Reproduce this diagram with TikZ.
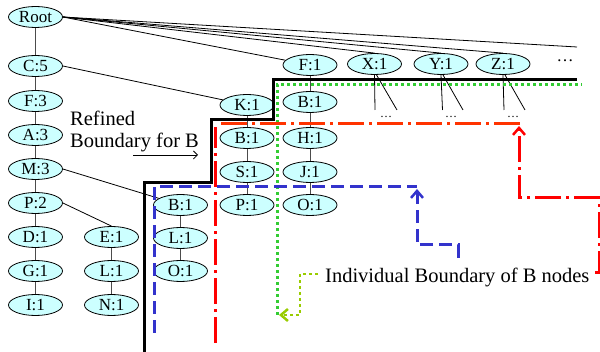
\documentclass[tikz,border=0pt]{standalone}
\usepackage{fontspec}
\setmainfont{Liberation Serif}
\usetikzlibrary{arrows.meta,shapes.geometric}
\definecolor{nodefill}{HTML}{CCFFFF}
\definecolor{bgreen}{HTML}{33CC33}
\definecolor{olive}{HTML}{99CC00}
\definecolor{bblue}{HTML}{3333CC}
\definecolor{bred}{HTML}{FF0000}
\definecolor{ored}{HTML}{FF3300}
\begin{document}
\begin{tikzpicture}[x=1pt,y=-1pt,
  tn/.style={ellipse,draw=black,line width=0.8pt,fill=nodefill,minimum width=54pt,minimum height=21pt,inner sep=0pt,font=\fontsize{17}{17}\selectfont},
  edge/.style={draw=black!70,line width=0.9pt},
  redge/.style={draw=black,line width=0.8pt},
  lbl/.style={inner sep=0pt,font=\fontsize{20.5}{20.5}\selectfont},
  sdots/.style={inner sep=0pt,font=\fontsize{12}{12}\selectfont},
  blackb/.style={draw=black,line width=3pt},
  greenb/.style={draw=bgreen,line width=3pt,dash pattern=on 3pt off 3pt},
  oliveb/.style={draw=olive,line width=2.5pt,dash pattern=on 3pt off 3pt},
  blueb/.style={draw=bblue,line width=3pt,dash pattern=on 13pt off 6pt},
  redb/.style={draw=bred,line width=3pt,dash pattern=on 26pt off 5pt on 3pt off 5pt},
  oredb/.style={draw=ored,line width=3pt,dash pattern=on 26pt off 5pt on 3pt off 5pt},
  barb/.style={-{Straight Barb[length=7pt,width=12pt,line width=2.5pt]}}
]
\useasboundingbox (0,0) rectangle (600,352);

% nodes
\node[tn] (root) at (35.5,17) {Root};
\node[tn] (c5) at (35.5,66) {C:5};
\node[tn] (f3) at (35.5,101) {F:3};
\node[tn] (a3) at (35.5,135) {A:3};
\node[tn] (m3) at (35.5,169) {M:3};
\node[tn] (p2) at (35.5,203) {P:2};
\node[tn] (d1) at (35.5,237) {D:1};
\node[tn] (g1) at (35.5,271) {G:1};
\node[tn] (i1) at (35.5,305) {I:1};
\node[tn] (e1) at (111.5,237) {E:1};
\node[tn] (l1a) at (111.5,271) {L:1};
\node[tn] (n1) at (111.5,305) {N:1};
\node[tn] (b1a) at (180.5,205) {B:1};
\node[tn] (l1b) at (180.5,238) {L:1};
\node[tn] (o1a) at (180.5,271) {O:1};
\node[tn] (k1) at (247,105) {K:1};
\node[tn] (b1b) at (247,138) {B:1};
\node[tn] (s1) at (247,172) {S:1};
\node[tn] (p1) at (247,205) {P:1};
\node[tn] (f1) at (310,65) {F:1};
\node[tn] (b1c) at (310,102) {B:1};
\node[tn] (h1) at (310,138) {H:1};
\node[tn] (j1) at (310,172) {J:1};
\node[tn] (o1b) at (310,205) {O:1};
\node[tn] (x1) at (374.5,64) {X:1};
\node[tn] (y1) at (441,64) {Y:1};
\node[tn] (z1) at (503,64) {Z:1};
\node[inner sep=0pt,font=\fontsize{17}{17}\selectfont] (dotsr) at (565,61) {\ldots};
\coordinate (far) at (577,47);

% tree edges
\draw[edge] (root) -- (c5) -- (f3) -- (a3) -- (m3) -- (p2) -- (d1) -- (g1) -- (i1);
\draw[edge] (e1) -- (l1a) -- (n1);
\draw[edge] (b1a) -- (l1b) -- (o1a);
\draw[edge] (k1) -- (b1b) -- (s1) -- (p1);
\draw[edge] (f1) -- (b1c) -- (h1) -- (j1) -- (o1b);
\draw[redge] (c5.east) -- (k1);
\draw[redge] (m3.east) -- (b1a);
\draw[redge] (p2.east) -- (e1.north);
\draw[redge] (root.east) -- (f1);
\draw[redge] (root.east) -- (x1.north);
\draw[redge] (root.east) -- (y1.north);
\draw[redge] (root.east) -- (z1.north);
\draw[redge] (root.east) -- (far);

% children stubs of X, Y, Z
\coordinate (xa) at (375,110); \coordinate (xb) at (397,110);
\coordinate (ya) at (442.5,110); \coordinate (yb) at (463,110);
\coordinate (za) at (504,110); \coordinate (zb) at (525,110);
\draw[redge] (x1.south) -- (xa); \draw[redge] ([xshift=2pt]x1.south) -- (xb);
\draw[redge] (y1.south) -- (ya); \draw[redge] ([xshift=2pt]y1.south) -- (yb);
\draw[redge] (z1.south) -- (za); \draw[redge] ([xshift=2pt]z1.south) -- (zb);
\node[sdots] (xd) at (386,117) {\ldots};
\node[sdots] (yd) at (451,117) {\ldots};
\node[sdots] (zd) at (513,117) {\ldots};

% refined boundary label
\node[lbl,anchor=west] (ref1) at (70,118) {Refined};
\node[lbl,anchor=west] (ref2) at (70,142) {Boundary for B};
\coordinate (ra) at (133,155); \coordinate (rb) at (198,155);
\draw[black,line width=0.8pt,-{Straight Barb[length=4pt,width=8pt]}] (ra) -- (rb);

% main label
\node[lbl,anchor=west] (ib) at (325,277) {Individual Boundary of B nodes};

% boundaries
\draw[blackb] (144,352) -- (144,183) -- (211,183) -- (211,120) -- (273,120) -- (273,80) -- (577,80);
\draw[greenb] (277,315) -- (277,85) -- (582,85);
\draw[blueb] (154,333) -- (154,187) -- (417,187);
\draw[redb] (215,343) -- (215,127);
\draw[oredb] (221,124) -- (520,124);

% pointers from label
\draw[oliveb,barb] (ib.west) ++(-7,-3) -- (300,274) -- (300,315) -- (279,315);
\draw[blueb,barb] (458,258) -- (458,245) -- (417,245) -- (417,189);
\draw[redb,barb] (595,273) -- (599,273) -- (599,198) -- (519,198) -- (519,126);
\end{tikzpicture}
\end{document}
